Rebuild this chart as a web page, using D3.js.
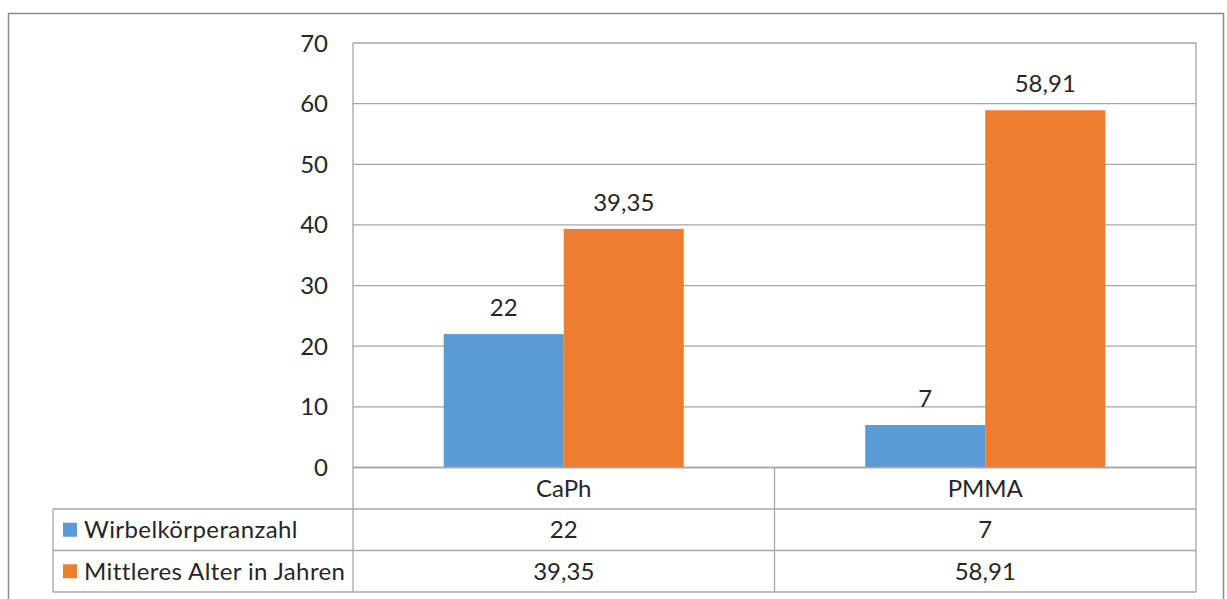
<!DOCTYPE html>
<html>
<head>
<meta charset="utf-8">
<script src="https://cdn.jsdelivr.net/npm/d3@7"></script>
<style>
  html, body { margin: 0; padding: 0; background: #fff; }
  svg { display: block; }
  text { font-family: Lato, "Open Sans", sans-serif; fill: #262626; }
</style>
</head>
<body>
<svg id="chart" width="1227" height="599"></svg>
<script>
// Chart data
const categories = ["CaPh", "PMMA"];
const seriesNames = ["Wirbelkörperanzahl", "Mittleres Alter in Jahren"];
const seriesColors = ["#5b9bd5", "#ed7d31"];
const wirbelkoerperanzahl = [22, 7];
const mittleresAlter = [39.35, 58.91];
const valueLabels = [["22", "7"], ["39,35", "58,91"]];
const yTicks = [0, 10, 20, 30, 40, 50, 60, 70];

const seriesValues = [wirbelkoerperanzahl, mittleresAlter];

const svg = d3.select("#chart");
const fontSize = 24;
const gridColor = "#a6a6a6";

// Layout
const plotLeft = 353, plotRight = 1196, plotTop = 43, plotBottom = 467.5;
const rowH = 41.5;
const tableLeft = 53;
const tableBottom = plotBottom + rowH * 3;

const x0 = d3.scaleBand().domain(categories).range([plotLeft, plotRight]).paddingInner(0).paddingOuter(0);
const x1 = d3.scaleBand().domain(seriesNames).range([0, x0.bandwidth()]).paddingInner(0).paddingOuter(0.756);
const y = d3.scaleLinear().domain([0, 70]).range([plotBottom, plotTop]);

// Outer frame
svg.append("rect")
  .attr("x", 8.5).attr("y", 13.5).attr("width", 1215).attr("height", 620)
  .attr("fill", "none").attr("stroke", "#8c8c8c").attr("stroke-width", 1.5);

// Horizontal gridlines
svg.append("g").selectAll("line").data(yTicks).join("line")
  .attr("x1", plotLeft).attr("x2", plotRight)
  .attr("y1", d => y(d)).attr("y2", d => y(d))
  .attr("stroke", gridColor).attr("stroke-width", 1.3);

// Y axis tick labels
svg.append("g").selectAll("text").data(yTicks).join("text")
  .attr("x", 328).attr("y", d => y(d) + 8.5)
  .attr("text-anchor", "end")
  .attr("font-size", fontSize)
  .text(d => d);

// Bars
const groups = svg.append("g").selectAll("g").data(categories).join("g")
  .attr("transform", c => `translate(${x0(c)},0)`);

groups.selectAll("rect")
  .data((c, ci) => seriesNames.map((s, si) => ({ s, si, v: seriesValues[si][ci] })))
  .join("rect")
  .attr("x", d => x1(d.s))
  .attr("width", x1.bandwidth())
  .attr("y", d => y(d.v))
  .attr("height", d => y(0) - y(d.v))
  .attr("fill", d => seriesColors[d.si]);

// Value labels above bars
groups.selectAll("text")
  .data((c, ci) => seriesNames.map((s, si) => ({ s, si, v: seriesValues[si][ci], label: valueLabels[si][ci] })))
  .join("text")
  .attr("x", d => x1(d.s) + x1.bandwidth() / 2)
  .attr("y", d => y(d.v) - 18)
  .attr("text-anchor", "middle")
  .attr("font-size", fontSize)
  .text(d => d.label);

// Data table beneath the plot
const table = svg.append("g");
const hLines = [
  { y: plotBottom, x1: plotLeft, x2: plotRight },
  { y: plotBottom + rowH, x1: tableLeft, x2: plotRight },
  { y: plotBottom + rowH * 2, x1: tableLeft, x2: plotRight },
  { y: tableBottom, x1: tableLeft, x2: plotRight }
];
table.selectAll("line.h").data(hLines).join("line")
  .attr("class", "h")
  .attr("x1", d => d.x1).attr("x2", d => d.x2)
  .attr("y1", d => d.y).attr("y2", d => d.y)
  .attr("stroke", gridColor).attr("stroke-width", 1.3);

const vLines = [
  { x: tableLeft, y1: plotBottom + rowH, y2: tableBottom },
  { x: plotLeft, y1: plotTop, y2: tableBottom },
  { x: x0(categories[1]), y1: plotBottom, y2: tableBottom },
  { x: plotRight, y1: plotTop, y2: tableBottom }
];
table.selectAll("line.v").data(vLines).join("line")
  .attr("class", "v")
  .attr("x1", d => d.x).attr("x2", d => d.x)
  .attr("y1", d => d.y1).attr("y2", d => d.y2)
  .attr("stroke", gridColor).attr("stroke-width", 1.3);

// Category header row
table.selectAll("text.cat").data(categories).join("text")
  .attr("class", "cat")
  .attr("x", c => x0(c) + x0.bandwidth() / 2)
  .attr("y", plotBottom + rowH / 2 + 8.5)
  .attr("text-anchor", "middle")
  .attr("font-size", fontSize)
  .text(c => c);

// Series rows: legend key, name and values
seriesNames.forEach((name, si) => {
  const cy = plotBottom + rowH * (si + 1) + rowH / 2;
  table.append("rect")
    .attr("x", 63).attr("y", cy - 7).attr("width", 14).attr("height", 14)
    .attr("fill", seriesColors[si]);
  table.append("text")
    .attr("x", 84).attr("y", cy + 8.5)
    .attr("font-size", fontSize)
    .attr("letter-spacing", 0.4)
    .text(name);
  table.selectAll(null).data(categories).join("text")
    .attr("x", c => x0(c) + x0.bandwidth() / 2)
    .attr("y", cy + 8.5)
    .attr("text-anchor", "middle")
    .attr("font-size", fontSize)
    .text((c, ci) => valueLabels[si][ci]);
});
</script>
</body>
</html>
